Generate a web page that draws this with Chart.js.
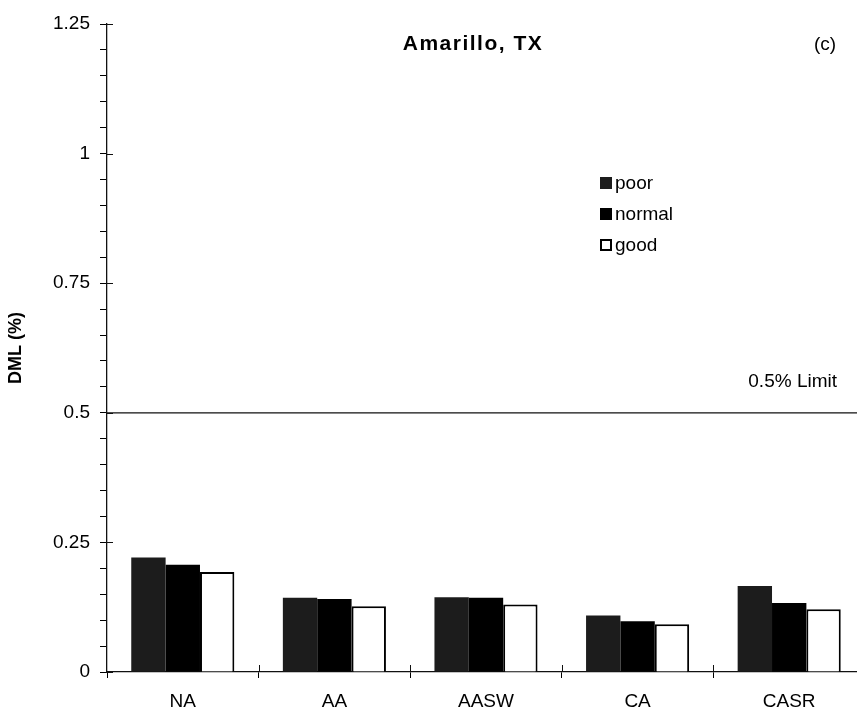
<!DOCTYPE html>
<html>
<head>
<meta charset="utf-8">
<title>Amarillo, TX - DML</title>
<script src="https://cdn.jsdelivr.net/npm/chart.js@4"></script>
<style>
    body { margin: 0; background: #fff; overflow: hidden; }
    #wrap { width: 865px; height: 710px; }
</style>
</head>
<body>
<div id="wrap"><canvas id="dmlChart" width="865" height="710"></canvas></div>
<script>
// --- Data ---
const categories = ["NA", "AA", "AASW", "CA", "CASR"];
const poorValues = [0.221, 0.143, 0.144, 0.109, 0.166];
const normalValues = [0.207, 0.141, 0.143, 0.098, 0.133];
const goodValues = [0.193, 0.127, 0.130, 0.092, 0.121];
const seriesNames = ["poor", "normal", "good"];
const majorTicks = [0, 0.25, 0.5, 0.75, 1, 1.25];
const limitValue = 0.5;
const limitLabel = "0.5% Limit";
const chartTitle = "Amarillo, TX";
const panelLabel = "(c)";

const FONT = "'Liberation Sans', Arial, Helvetica, sans-serif";
const ctx = document.getElementById("dmlChart").getContext("2d");

// --- Extra drawing: title, limit line, legend, inner tick stubs ---
const extrasPlugin = {
    id: "extras",
    afterDraw(chart) {
        const c = chart.ctx;
        const area = chart.chartArea;
        const y = chart.scales.y;
        const x = chart.scales.x;
        c.save();

        // limit line
        const ly = y.getPixelForValue(limitValue);
        c.strokeStyle = "#111";
        c.lineWidth = 1.3;
        c.beginPath();
        c.moveTo(area.left, ly);
        c.lineTo(area.right, ly);
        c.stroke();

        c.fillStyle = "#000";
        c.textBaseline = "middle";
        c.font = "19px " + FONT;
        c.textAlign = "right";
        c.fillText(limitLabel, 837, ly - 31);

        // inner stubs for major y ticks
        c.lineWidth = 1;
        majorTicks.forEach((v) => {
            const py = Math.round(y.getPixelForValue(v)) + 0.5;
            c.beginPath();
            c.moveTo(area.left, py);
            c.lineTo(area.left + 6, py);
            c.stroke();
        });
        // upward stubs for category separators
        for (let i = 1; i < categories.length; i++) {
            const px = Math.round((x.getPixelForTick(i - 1) + x.getPixelForTick(i)) / 2) + 0.5;
            c.beginPath();
            c.moveTo(px, area.bottom);
            c.lineTo(px, area.bottom - 7);
            c.stroke();
        }

        // titles
        c.textAlign = "center";
        c.font = "bold 21px " + FONT;
        c.letterSpacing = "1.5px";
        c.fillText(chartTitle, 473, 44);
        c.letterSpacing = "0px";
        c.font = "19px " + FONT;
        c.fillText(panelLabel, 825, 45);

        // legend
        const rows = [183, 214, 245];
        c.textAlign = "left";
        chart.data.datasets.forEach((ds, i) => {
            const ry = rows[i];
            c.fillStyle = ds.backgroundColor;
            c.fillRect(600, ry - 6, 12, 12);
            if (ds.borderWidth) {
                c.strokeStyle = "#000";
                c.lineWidth = 2;
                c.strokeRect(601, ry - 5, 10, 10);
            }
            c.fillStyle = "#000";
            c.font = "19px " + FONT;
            c.fillText(ds.label, 615, ry + 1);
        });

        c.restore();
    },
};

// --- Chart ---
const dmlChart = new Chart(ctx, {
    type: "bar",
    data: {
        labels: categories,
        datasets: [
            {
                label: seriesNames[0],
                data: poorValues,
                backgroundColor: "#1c1c1c",
                borderWidth: 0,
            },
            {
                label: seriesNames[1],
                data: normalValues,
                backgroundColor: "#000000",
                borderWidth: 0,
            },
            {
                label: seriesNames[2],
                data: goodValues,
                backgroundColor: "#ffffff",
                borderColor: "#000000",
                borderWidth: 2,
            },
        ],
    },
    options: {
        responsive: false,
        animation: false,
        categoryPercentage: 0.68,
        barPercentage: 1.0,
        layout: { padding: { top: 24, left: 0, right: 0, bottom: 0 } },
        plugins: {
            legend: { display: false },
            title: { display: false },
            tooltip: { enabled: false },
        },
        scales: {
            x: {
                grid: {
                    display: true,
                    drawOnChartArea: false,
                    offset: true,
                    tickLength: 6,
                    color: "#000",
                },
                border: { display: true, color: "#111", width: 1.3 },
                ticks: {
                    color: "#000",
                    font: { family: FONT, size: 19 },
                    padding: 12,
                },
                afterFit(scale) {
                    scale.height = 38;
                },
            },
            y: {
                min: 0,
                max: 1.25,
                grid: {
                    display: true,
                    drawOnChartArea: false,
                    tickLength: 7,
                    color: "#000",
                },
                border: { display: true, color: "#111", width: 1.3 },
                ticks: {
                    stepSize: 0.05,
                    autoSkip: false,
                    color: "#000",
                    padding: 10,
                    font: { family: FONT, size: 19 },
                    callback: function (value) {
                        const hit = majorTicks.find((m) => Math.abs(m - value) < 1e-6);
                        return hit === undefined ? "" : String(hit);
                    },
                },
                title: {
                    display: true,
                    text: "DML (%)",
                    color: "#000",
                    font: { family: FONT, size: 18, weight: "bold" },
                    padding: { top: 5, bottom: 0 },
                },
                afterFit(scale) {
                    scale.width = 107;
                },
            },
        },
    },
    plugins: [extrasPlugin],
});
</script>
</body>
</html>
